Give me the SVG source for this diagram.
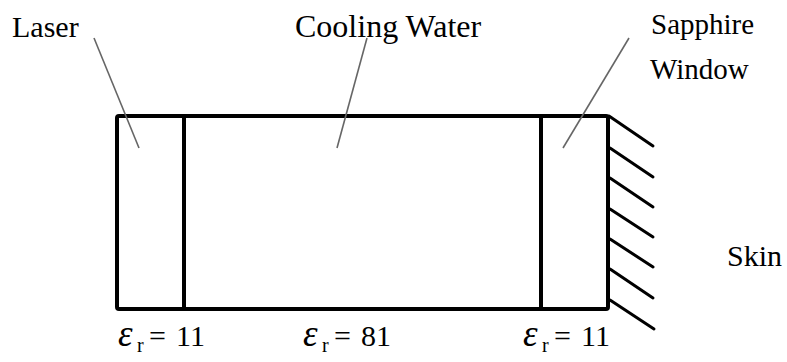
<svg xmlns="http://www.w3.org/2000/svg" width="787" height="362" viewBox="0 0 787 362">
<style>
.t{font-family:'Liberation Serif','Times New Roman',serif;font-size:30px;fill:#000}
.lead{stroke:#666;stroke-width:1.6;fill:none}
.box{stroke:#000;stroke-width:4;fill:none;stroke-linejoin:round}
.hatch{stroke:#000;stroke-width:3;fill:none;stroke-linecap:round}
.eps{font-style:italic;font-size:37px}
.sub{font-size:20px}
</style>
<rect width="787" height="362" fill="#fff"/>
<g id="structure">
<rect class="box" x="117" y="116" width="491" height="193" rx="2"/>
<line class="box" x1="184" y1="116" x2="184" y2="309"/>
<line class="box" x1="541" y1="116" x2="541" y2="309"/>
</g>
<g id="skin-hatch">
<line class="hatch" x1="609" y1="116" x2="653" y2="146"/>
<line class="hatch" x1="610" y1="148" x2="653" y2="177"/>
<line class="hatch" x1="610" y1="178" x2="653" y2="207"/>
<line class="hatch" x1="610" y1="209" x2="653" y2="237"/>
<line class="hatch" x1="610" y1="239" x2="653" y2="267"/>
<line class="hatch" x1="610" y1="269" x2="653" y2="298"/>
<line class="hatch" x1="610" y1="300" x2="654" y2="329"/>
</g>
<g id="connectors">
<line class="lead" x1="94" y1="38" x2="139" y2="148"/>
<line class="lead" x1="367" y1="38" x2="337" y2="148"/>
<line class="lead" x1="629" y1="38" x2="563" y2="148"/>
</g>
<g id="label-laser"><text class="t" x="12" y="37">Laser</text></g>
<g id="label-water"><text class="t" x="295" y="37" style="font-size:32px">Cooling Water</text></g>
<g id="label-sapphire"><text class="t" x="651" y="34" style="font-size:29px">Sapphire</text><text class="t" x="650" y="79" style="font-size:29px">Window</text></g>
<g id="label-skin"><text class="t" x="727" y="266">Skin</text></g>
<g id="eps-laser"><text class="t" y="346"><tspan class="eps" x="118">ε</tspan><tspan class="sub" x="137" y="352">r</tspan><tspan x="149" y="346">=</tspan><tspan x="176">11</tspan></text></g>
<g id="eps-water"><text class="t" y="346"><tspan class="eps" x="303">ε</tspan><tspan class="sub" x="322" y="352">r</tspan><tspan x="334" y="346">=</tspan><tspan x="361">81</tspan></text></g>
<g id="eps-sapphire"><text class="t" y="346"><tspan class="eps" x="523">ε</tspan><tspan class="sub" x="542" y="352">r</tspan><tspan x="554" y="346">=</tspan><tspan x="581">11</tspan></text></g>
</svg>
